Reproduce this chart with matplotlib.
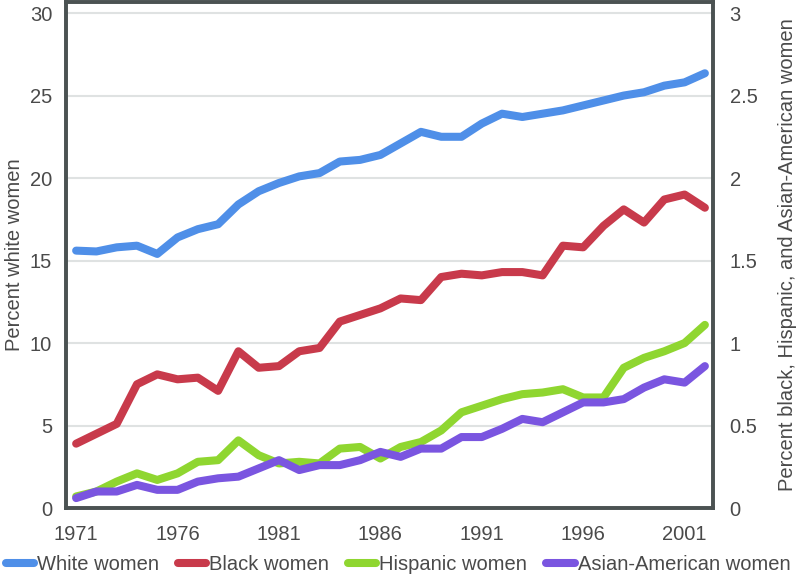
import matplotlib.pyplot as plt
import numpy as np

years = list(range(1971, 2003))

# percent, left axis
white = [15.6, 15.55, 15.8, 15.9, 15.4, 16.4, 16.9, 17.2, 18.4, 19.2, 19.7, 20.1,
         20.3, 21.0, 21.1, 21.4, 22.1, 22.8, 22.5, 22.5, 23.3, 23.9, 23.7, 23.9,
         24.1, 24.4, 24.7, 25.0, 25.2, 25.6, 25.8, 26.35]

# percent, right axis
black = [0.39, 0.45, 0.51, 0.75, 0.81, 0.78, 0.79, 0.71, 0.95, 0.85, 0.86, 0.95,
         0.97, 1.13, 1.17, 1.21, 1.27, 1.26, 1.40, 1.42, 1.41, 1.43, 1.43, 1.41,
         1.59, 1.58, 1.71, 1.81, 1.73, 1.87, 1.90, 1.82]
hispanic = [0.07, 0.10, 0.16, 0.21, 0.17, 0.21, 0.28, 0.29, 0.41, 0.32, 0.27, 0.28,
            0.27, 0.36, 0.37, 0.30, 0.37, 0.40, 0.47, 0.58, 0.62, 0.66, 0.69, 0.70,
            0.72, 0.67, 0.67, 0.85, 0.91, 0.95, 1.00, 1.11]
asian = [0.06, 0.10, 0.10, 0.14, 0.11, 0.11, 0.16, 0.18, 0.19, 0.24, 0.29, 0.23,
         0.26, 0.26, 0.29, 0.34, 0.31, 0.36, 0.36, 0.43, 0.43, 0.48, 0.54, 0.52,
         0.58, 0.64, 0.64, 0.66, 0.73, 0.78, 0.76, 0.86]

left_ticks = [0, 5, 10, 15, 20, 25, 30]
right_ticks = [0, 0.5, 1, 1.5, 2, 2.5, 3]
right_labels = ["0", "0.5", "1", "1.5", "2", "2.5", "3"]
x_ticks = [1971, 1976, 1981, 1986, 1991, 1996, 2001]

c_white = "#4f8fe8"
c_black = "#c83a4b"
c_hisp = "#8fd630"
c_asian = "#7a55e0"
c_axis = "#4b5252"
c_text = "#4a4a4a"

plt.rcParams['font.family'] = ['Liberation Sans', 'DejaVu Sans']
fs = 14.5

fig = plt.figure(figsize=(7.96, 5.75), dpi=100)
ax = fig.add_axes([66 / 796, 1 - 508 / 575, (713 - 66) / 796, (508 - 2) / 575])
ax2 = ax.twinx()

lw = 5.8
ax.plot(years, white, color=c_white, lw=lw, solid_capstyle='round', zorder=3)
ax2.plot(years, black, color=c_black, lw=lw, solid_capstyle='round')
ax2.plot(years, hispanic, color=c_hisp, lw=lw, solid_capstyle='round')
ax2.plot(years, asian, color=c_asian, lw=lw, solid_capstyle='round')

ax.set_xlim(1970.5, 2002.4)
ax.set_ylim(0, 30.67)
ax2.set_ylim(0, 3.067)

ax.set_yticks(left_ticks)
ax.set_xticks(x_ticks)
ax2.set_yticks(right_ticks)
ax2.set_yticklabels(right_labels)

for t in left_ticks[1:]:
    ax.axhline(t, color="#dfe2e2", lw=1.5, zorder=0)

for a in (ax, ax2):
    for s in a.spines.values():
        s.set_color(c_axis)
        s.set_linewidth(2.6)
    a.tick_params(length=0, labelsize=fs, colors=c_text)
ax.tick_params(axis='y', pad=10)
ax.tick_params(axis='x', pad=12)
ax2.tick_params(axis='y', pad=12)

ax.set_ylabel("Percent white women", fontsize=fs, color=c_text, labelpad=4)
ax2.set_ylabel("Percent black, Hispanic, and Asian-American women",
               fontsize=fs, color=c_text, rotation=90, labelpad=15)

# legend handles from the plotted lines
handles = [ax.lines[0]] + ax2.lines
labels = ["White women", "Black women", "Hispanic women", "Asian-American women"]
fig.legend(handles, labels, loc='lower center', bbox_to_anchor=(0.5, -0.03),
           ncol=4, frameon=False, fontsize=fs, handlelength=1.4,
           handletextpad=0.15, columnspacing=0.95, labelcolor=c_text)

plt.savefig("out.png", dpi=100)
